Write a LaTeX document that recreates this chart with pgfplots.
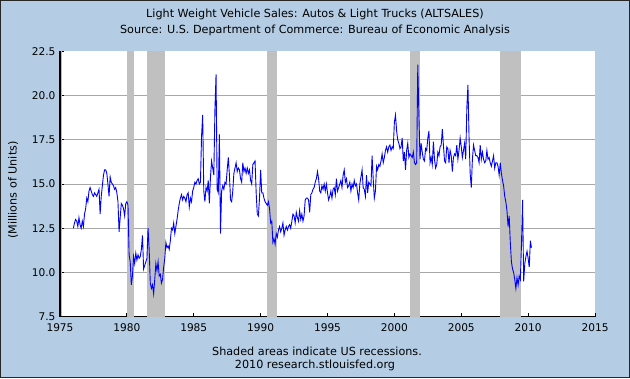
\documentclass[border=0pt]{standalone}
\usepackage{pgfplots}
\pgfplotsset{compat=1.18}
\usepackage{pgfplotstable}
\usepackage{fontspec}
\setmainfont{DejaVu Sans}
\definecolor{fredbg}{RGB}{180,205,228}
\definecolor{recgray}{RGB}{192,192,192}
\definecolor{gridgray}{RGB}{168,168,168}
\pgfplotstableread[row sep=\\]{v\\
12.5\\12.8\\13.0\\12.9\\12.6\\13.1\\12.7\\12.5\\12.9\\12.6\\13.3\\13.6\\
14.2\\14.0\\14.6\\14.8\\14.6\\14.4\\14.3\\14.5\\14.4\\14.3\\14.5\\14.7\\
13.3\\14.3\\14.9\\15.5\\15.8\\15.8\\15.6\\15.0\\14.3\\15.4\\15.1\\15.0\\
14.9\\14.7\\14.8\\14.5\\14.0\\12.3\\13.1\\13.9\\13.8\\13.6\\13.2\\13.9\\
14.0\\13.8\\11.0\\10.6\\9.3\\9.8\\10.9\\10.5\\11.1\\10.7\\11.0\\10.8\\
10.9\\11.3\\12.1\\10.2\\10.4\\10.6\\10.8\\12.5\\11.3\\9.4\\9.1\\9.3\\
8.8\\9.6\\10.5\\10.1\\10.6\\9.8\\9.9\\9.4\\9.6\\10.3\\10.8\\11.7\\
11.4\\11.5\\11.3\\11.8\\12.5\\12.4\\12.8\\12.2\\12.6\\13.0\\13.5\\13.9\\
14.2\\14.4\\14.1\\14.3\\14.2\\14.0\\14.4\\14.5\\13.7\\14.2\\14.0\\14.6\\
14.8\\15.1\\15.0\\15.2\\15.3\\15.0\\15.1\\17.7\\18.9\\14.6\\14.0\\14.8\\
14.6\\15.2\\13.9\\15.4\\16.3\\15.9\\15.5\\19.2\\21.2\\14.7\\14.5\\17.8\\
12.2\\14.6\\14.9\\14.7\\15.1\\15.0\\15.8\\16.5\\15.5\\14.1\\14.0\\14.6\\
15.6\\15.9\\16.2\\15.7\\15.9\\15.8\\15.3\\15.1\\16.2\\15.7\\15.9\\15.6\\
15.9\\15.6\\15.8\\15.2\\15.0\\16.1\\16.2\\16.3\\14.5\\13.3\\13.2\\14.2\\
15.8\\14.5\\14.5\\14.2\\14.0\\13.9\\13.8\\14.0\\13.6\\12.8\\12.9\\11.7\\
11.9\\11.6\\12.2\\12.0\\12.4\\12.6\\12.3\\12.5\\12.8\\12.1\\12.4\\12.6\\
12.4\\12.6\\12.7\\12.5\\12.9\\13.3\\13.2\\12.8\\13.4\\13.1\\12.9\\13.5\\
13.0\\13.3\\12.9\\13.2\\14.1\\14.2\\14.2\\14.1\\13.4\\14.4\\14.5\\14.7\\
14.8\\15.1\\15.3\\15.7\\15.3\\14.6\\14.5\\14.9\\14.7\\15.0\\14.6\\15.0\\
14.5\\14.1\\14.3\\14.6\\14.2\\14.7\\14.8\\14.4\\15.3\\14.6\\14.8\\15.0\\
15.2\\14.8\\15.5\\15.8\\15.1\\15.3\\14.8\\14.9\\15.1\\14.6\\15.0\\14.8\\
15.2\\14.9\\15.0\\14.5\\14.1\\15.0\\15.4\\15.8\\14.8\\14.7\\14.3\\15.5\\
14.5\\15.1\\15.0\\14.9\\16.6\\15.3\\14.2\\14.6\\16.0\\15.8\\16.1\\16.0\\
16.3\\16.7\\16.2\\16.5\\16.9\\17.1\\16.8\\17.1\\17.2\\16.9\\17.1\\17.0\\
18.5\\18.9\\18.0\\17.5\\17.3\\17.0\\17.1\\17.6\\16.3\\16.8\\15.8\\16.9\\
17.3\\16.5\\16.7\\16.6\\16.5\\16.8\\16.2\\16.1\\16.2\\21.75\\18.9\\16.4\\
17.3\\16.8\\16.4\\16.3\\17.0\\16.9\\17.6\\18.0\\16.2\\16.5\\16.1\\17.4\\
16.4\\15.9\\16.1\\16.8\\16.6\\17.1\\17.2\\18.1\\17.2\\16.3\\16.2\\17.1\\
17.0\\16.2\\16.9\\16.6\\15.7\\16.5\\16.7\\16.6\\17.2\\16.4\\16.9\\17.6\\
17.1\\16.5\\16.9\\17.3\\16.4\\19.3\\20.6\\17.6\\15.6\\14.8\\16.4\\17.2\\
16.9\\16.6\\16.6\\16.5\\16.2\\17.2\\16.4\\16.8\\16.4\\16.2\\16.3\\16.9\\
16.4\\16.5\\16.2\\16.0\\16.3\\16.6\\15.9\\16.2\\16.2\\16.0\\15.5\\16.2\\
15.6\\15.2\\14.9\\14.3\\14.0\\13.5\\12.6\\13.2\\11.7\\10.6\\10.2\\10.0\\
9.6\\9.1\\9.7\\9.3\\9.8\\9.6\\11.5\\14.1\\9.5\\10.5\\10.9\\11.2\\
10.8\\10.3\\11.8\\11.4\\
}\sales
\begin{document}
\begin{tikzpicture}[x=1bp,y=1bp]
\useasboundingbox (0,0) rectangle (630,378);
\fill[fredbg] (0,0) rectangle (630,378);
\draw[black!85, line width=1.2bp] (0.6,0.6) rectangle (629.4,377.4);
\begin{axis}[
  at={(60bp,61.3bp)}, anchor=south west,
  scale only axis, width=535bp, height=265.4bp,
  xmin=1975, xmax=2015, ymin=7.5, ymax=22.5,
  axis background/.style={fill=white},
  axis lines*=left,
  axis line style={black, line width=1.5bp},
  xtick={1975,1980,...,2015},
  ytick={10,12.5,15,17.5,20},
  extra y ticks={7.5,22.5},
  extra y tick style={grid=none},
  ymajorgrids,
  grid style={gridgray, line width=1bp},
  tick align=inside,
  major tick length=4bp,
  tick style={black, line width=0.9bp},
  xticklabel style={/pgf/number format/1000 sep={}, yshift=-3bp},
  yticklabel style={/pgf/number format/fixed, /pgf/number format/precision=1, /pgf/number format/fixed zerofill, xshift=-1bp},
  /pgf/number format/assume math mode=true,
  tick label style={font=\fontsize{10.6bp}{12bp}\selectfont},
  clip=true,
]
\addplot[draw=none, fill=recgray] coordinates {(1980.0,7.5) (1980.0,22.5) (1980.5,22.5) (1980.5,7.5)} -- cycle;
\addplot[draw=none, fill=recgray] coordinates {(1981.5,7.5) (1981.5,22.5) (1982.87,22.5) (1982.87,7.5)} -- cycle;
\addplot[draw=none, fill=recgray] coordinates {(1990.5,7.5) (1990.5,22.5) (1991.22,22.5) (1991.22,7.5)} -- cycle;
\addplot[draw=none, fill=recgray] coordinates {(2001.2,7.5) (2001.2,22.5) (2001.9,22.5) (2001.9,7.5)} -- cycle;
\addplot[draw=none, fill=recgray] coordinates {(2007.9,7.5) (2007.9,22.5) (2009.5,22.5) (2009.5,7.5)} -- cycle;
\addplot[blue, line width=0.9bp, mark=none] table[x expr=1976+\coordindex/12, y=v] {\sales};
\end{axis}
\draw[gray!55, line width=1.3bp] (61.6,62.3) -- (61.6,326.7);
\node[font=\fontsize{11.2bp}{13bp}\selectfont] at (315,364) {Light Weight Vehicle Sales: Autos \& Light Trucks (ALTSALES)};
\node[font=\fontsize{11.2bp}{13bp}\selectfont] at (315,348) {Source: U.S. Department of Commerce: Bureau of Economic Analysis};
\node[font=\fontsize{11.2bp}{13bp}\selectfont, rotate=90] at (13,188) {(Millions of Units)};
\node[font=\fontsize{11.2bp}{13bp}\selectfont] at (317,26.3) {Shaded areas indicate US recessions.};
\node[font=\fontsize{11.2bp}{13bp}\selectfont] at (315,12.5) {2010 research.stlouisfed.org};
\end{tikzpicture}
\end{document}
